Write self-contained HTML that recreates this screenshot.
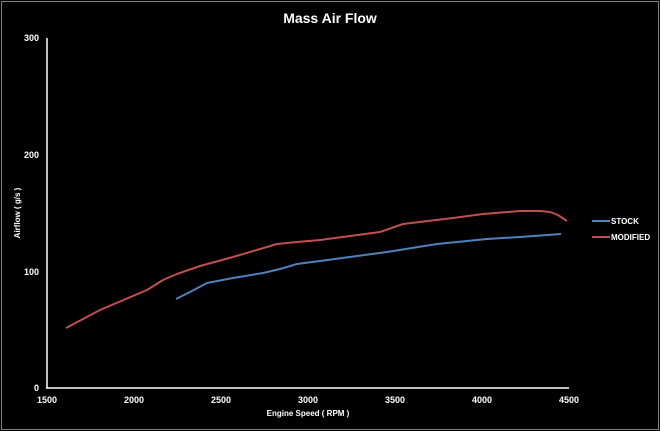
<!DOCTYPE html>
<html><head><style>
body{margin:0;background:#000;}
svg{display:block;font-family:"Liberation Sans",sans-serif;}
</style></head><body>
<svg width="660" height="431" viewBox="0 0 660 431">
<rect x="0" y="0" width="660" height="431" fill="#000"/>
<rect x="1.5" y="1.5" width="657" height="428" fill="none" stroke="#7f7f7f" stroke-width="1"/>
<text x="330" y="23" fill="#fff" font-size="14" font-weight="bold" text-anchor="middle">Mass Air Flow</text>
<line x1="47" y1="38" x2="47" y2="388.5" stroke="#fff" stroke-width="1.5"/>
<line x1="46" y1="388" x2="569" y2="388" stroke="#fff" stroke-width="1.5"/>
<g fill="#fff" font-size="9" font-weight="bold">
<text x="39" y="391" text-anchor="end">0</text>
<text x="39" y="275" text-anchor="end">100</text>
<text x="39" y="158" text-anchor="end">200</text>
<text x="39" y="41" text-anchor="end">300</text>
<g text-anchor="middle">
<text x="47" y="403">1500</text>
<text x="134" y="403">2000</text>
<text x="221" y="403">2500</text>
<text x="308" y="403">3000</text>
<text x="395" y="403">3500</text>
<text x="482" y="403">4000</text>
<text x="569" y="403">4500</text>
</g>
<text x="308" y="416" text-anchor="middle" font-size="8">Engine Speed ( RPM )</text>
<text transform="translate(20,213) rotate(-90)" text-anchor="middle" font-size="8">Airflow ( g/s )</text>
<text x="611" y="224" font-size="8">STOCK</text>
<text x="611" y="240" font-size="8">MODIFIED</text>
</g>
<line x1="592" y1="221" x2="610" y2="221" stroke="#4f81bd" stroke-width="2"/>
<line x1="592" y1="237" x2="610" y2="237" stroke="#c0504d" stroke-width="2"/>
<polyline fill="none" stroke="#c0504d" stroke-width="2" stroke-linejoin="round" points="66,328 100,310 147,290 163,280 177,274 200,266 233,257 277,244 297,242 320,240 380,232 403,224 453,218 483,214 520,211 540,211 550,212 558,215 567,221"/>
<polyline fill="none" stroke="#4f81bd" stroke-width="2" stroke-linejoin="round" points="176,299 190,292 207,283 233,278 263,273 280,269 297,264 320,261 387,252 437,244 487,239 520,237 561,234"/>
</svg>
</body></html>
